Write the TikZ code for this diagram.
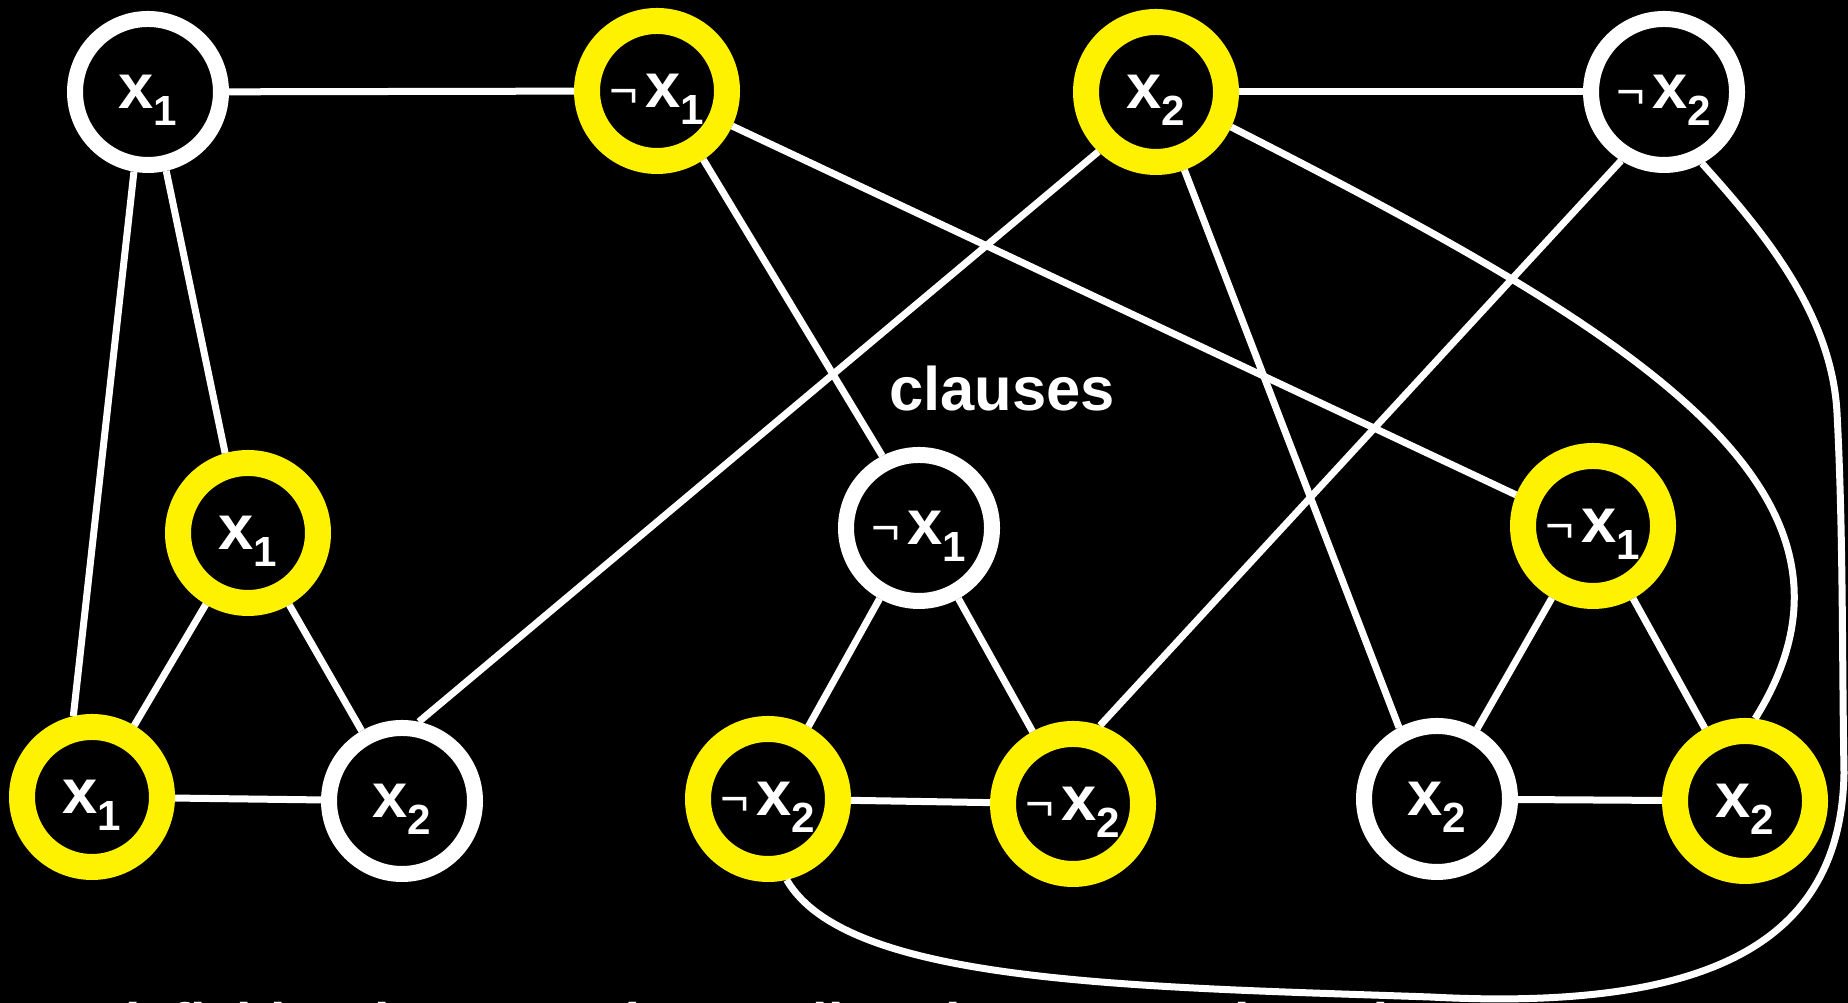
\documentclass[tikz,border=0pt]{standalone}
\usepackage{fontspec}
\setmainfont{Liberation Sans}
\usetikzlibrary{positioning}

\newcommand{\xlit}[1]{x\raisebox{-4.8pt}{\fontsize{12pt}{12pt}\selectfont #1}}
\newcommand{\nxlit}[1]{{\fontsize{14pt}{14pt}\selectfont\mdseries ¬}\kern2pt\xlit{#1}}

\begin{document}
\begin{tikzpicture}[
  lit/.style={circle, draw=white, fill=black, line width=0.16cm, minimum size=1.46cm,
    inner sep=0pt, text=white, font=\fontsize{18pt}{18pt}\selectfont\bfseries,
    text height=9.4pt, text depth=0pt},
  chosen/.style={lit, draw=yellow, line width=0.26cm, minimum size=1.40cm},
  edge/.style={white, line width=0.07cm}
]
  \useasboundingbox (0,0) rectangle (18.48,10.03);
  \fill[black] (0,0) rectangle (18.48,10.03);

  % variables
  \node[lit]    (vx1)  at (1.48,9.11)  {\xlit{1}};
  \node[chosen] (vnx1) at (6.57,9.12)  {\nxlit{1}};
  \node[chosen] (vx2)  at (11.56,9.11) {\xlit{2}};
  \node[lit]    (vnx2) at (16.64,9.11) {\nxlit{2}};

  % clauses
  \node[chosen] (c1a) at (2.48,4.70)  {\xlit{1}};
  \node[chosen] (c1b) at (0.92,2.06)  {\xlit{1}};
  \node[lit]    (c1c) at (4.02,2.02)  {\xlit{2}};
  \node[lit]    (c2a) at (9.19,4.75)  {\nxlit{1}};
  \node[chosen] (c2b) at (7.68,2.04)  {\nxlit{2}};
  \node[chosen] (c2c) at (10.73,1.99) {\nxlit{2}};
  \node[chosen] (c3a) at (15.93,4.77) {\nxlit{1}};
  \node[lit]    (c3b) at (14.37,2.04) {\xlit{2}};
  \node[chosen] (c3c) at (17.45,2.02) {\xlit{2}};

  \node[anchor=base, text=white, font=\fontsize{17.5pt}{18pt}\selectfont\bfseries]
    (clauses) at (10.02,5.92) {clauses};

  \draw[edge] (vx1) -- (vnx1);
  \draw[edge] (vx2) -- (vnx2);
  \draw[edge] (c1a) -- (c1b) -- (c1c) -- (c1a);
  \draw[edge] (c2a) -- (c2b) -- (c2c) -- (c2a);
  \draw[edge] (c3a) -- (c3b) -- (c3c) -- (c3a);

  \draw[edge] (vx1.-77) -- (c1a.106);
  \draw[edge] (vx1.-100) -- (c1b.103);
  \draw[edge] (vx2.-134) -- (c1c.78);
  \draw[edge] (vnx1.-56) -- (c2a.117);
  \draw[edge] (vnx2.-122) -- (c2c.71);
  \draw[edge] (vnx1.-25) -- (c3a.158);
  \draw[edge] (vx2.-70) -- (c3b.118);
  \draw[edge] (vx2.-25) .. controls +(-27:4.5) and +(58:2.7) .. (c3c.83);

  \coordinate (rA) at (18.37,5.9);
  \coordinate (rB) at (18.44,2.3);
  \coordinate (bA) at (14.3,0.06);
  \draw[edge] (vnx2.-62) .. controls +(-48:0.9) and +(93:1.0) .. (rA)
    .. controls +(-87:1.2) and +(91:1.2) .. (rB)
    .. controls +(-91:1.7) and +(-3:2.8) .. (bA)
    .. controls +(178:3.0) and +(-60:1.2) .. (c2b.-77);

  \node[anchor=base west, text=white, font=\fontsize{15.8pt}{16pt}\selectfont\bfseries]
    (note) at (0.33,-0.40) {satisfiable: the cover (“true” literals + 2 per clause)};
\end{tikzpicture}
\end{document}
